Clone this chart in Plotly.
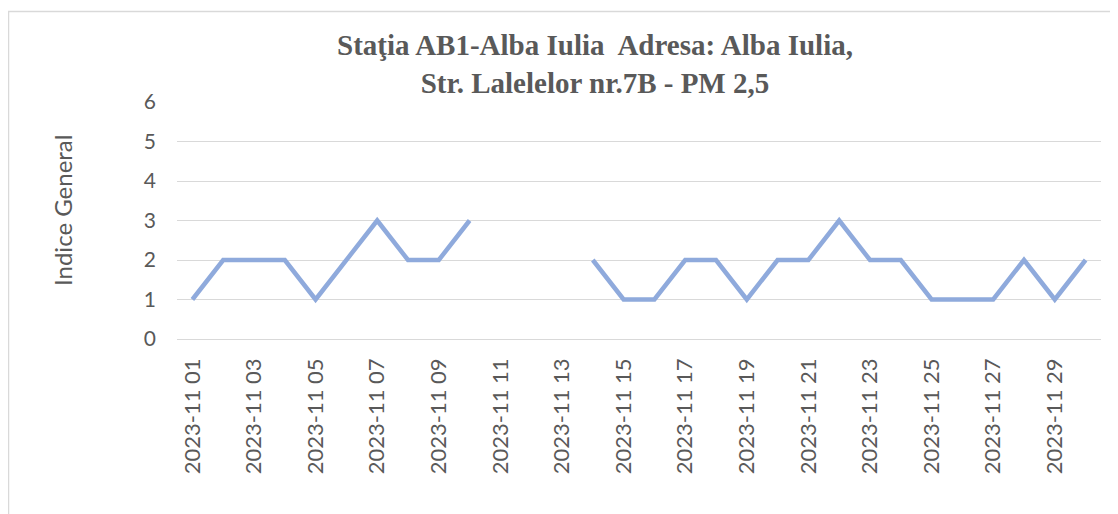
import plotly.graph_objects as go

days = [f"2023-11 {d:02d}" for d in range(1, 31)]
values = [1, 2, 2, 2, 1, 2, 3, 2, 2, 3,
          None, None, None, 2, 1, 1, 2, 2, 1, 2,
          2, 3, 2, 2, 1, 1, 1, 2, 1, 2]
tick_labels = days[::2]
y_ticks = [0, 1, 2, 3, 4, 5, 6]
title_line1 = "Staţia AB1-Alba Iulia  Adresa: Alba Iulia,"
title_line2 = "Str. Lalelelor nr.7B - PM 2,5"
y_title = "Indice General"

# page body adds an 8px offset; positions below are in figure pixels
OFF = 8
W, H = 1118, 514
L, R, T, B = 177 - OFF, 1101 - OFF, 102 - OFF, 339 - OFF

def px_x(px):
    return (px - OFF - L) / (R - L)

def px_y(py):
    return (B - (py - OFF)) / (B - T)

fig = go.Figure()
fig.add_trace(go.Scatter(
    x=days, y=values, mode="lines", connectgaps=False,
    line=dict(color="#8FAADC", width=4.5), showlegend=False,
))

sans = "Lato, 'Open Sans', sans-serif"
serif = "'Liberation Serif', 'Times New Roman', serif"
fig.update_layout(
    width=W, height=H,
    margin=dict(l=L, r=W - R, t=T, b=H - B, pad=0),
    paper_bgcolor="white", plot_bgcolor="white",
    xaxis=dict(
        type="category", categoryorder="array", categoryarray=days,
        range=[-0.5, 29.5], tickmode="array", tickvals=tick_labels,
        ticktext=tick_labels, tickangle=-90, showgrid=False,
        showline=False, zeroline=False, ticks="",
        tickfont=dict(family=sans, size=22, color="#595959"),
        ticklabelstandoff=14,
    ),
    yaxis=dict(
        range=[0, 6], tickmode="array", tickvals=y_ticks,
        showgrid=True, gridcolor="#D9D9D9", gridwidth=1.3,
        zeroline=True, zerolinecolor="#D9D9D9", zerolinewidth=1.3,
        showline=False, ticks="",
        tickfont=dict(family=sans, size=21, color="#595959"),
        ticklabelstandoff=20,
    ),
    shapes=[dict(
        type="rect", xref="paper", yref="paper",
        x0=px_x(8.5), x1=px_x(1140), y0=px_y(11.5), y1=px_y(540),
        line=dict(color="#D9D9D9", width=1.5), fillcolor="rgba(0,0,0,0)",
        layer="below",
    )],
    annotations=[
        dict(text="<b>" + title_line1 + "</b><br><b>" + title_line2 + "</b>",
             xref="paper", yref="paper", align="center",
             x=px_x(595), y=px_y(64), xanchor="center", yanchor="middle",
             showarrow=False, font=dict(family=serif, size=29, color="#595959")),
        dict(text=y_title, xref="paper", yref="paper",
             x=px_x(62), y=px_y(211), xanchor="center", yanchor="middle",
             textangle=-90, showarrow=False,
             font=dict(family=sans, size=24, color="#595959")),
    ],
)

fig.write_html("out.html")
